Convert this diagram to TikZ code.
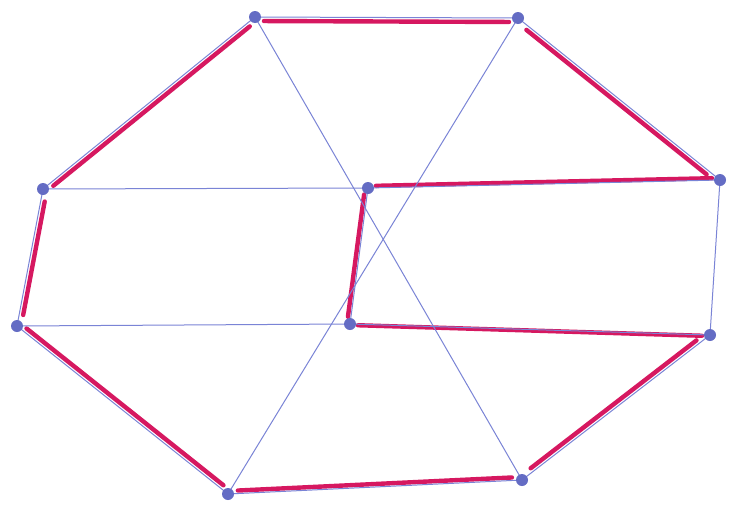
\documentclass[tikz,border=0pt]{standalone}
\usetikzlibrary{calc}
\definecolor{penblue}{RGB}{122,132,214}
\definecolor{dotblue}{RGB}{100,108,196}
\definecolor{penred}{RGB}{214,24,96}
\tikzset{
  blueline/.style={draw=penblue, line width=1pt},
  redline/.style={draw=penred, line width=4.4pt, line cap=round},
  vtx/.style={circle, fill=dotblue, inner sep=0pt, minimum size=12pt}
}
\newcommand{\redge}[4]{%
  \path ($(#1)!#4!90:(#2)$) coordinate (rp) ($(#2)!#4!-90:(#1)$) coordinate (rq);
  \draw[redline] ($(rp)!#3!(rq)$) -- ($(rq)!#3!(rp)$);}
\begin{document}
\begin{tikzpicture}[x=1pt,y=-1pt]
\useasboundingbox[fill=white] (0,0) rectangle (740,509);
\coordinate (v1) at (255,17);
\coordinate (v2) at (518,18);
\coordinate (v3) at (720,180);
\coordinate (v4) at (710,335);
\coordinate (v5) at (522,480);
\coordinate (v6) at (228,494);
\coordinate (v7) at (17,326);
\coordinate (v8) at (43,189);
\coordinate (v9) at (368,188);
\coordinate (v10) at (350,324);
% red highlighted cycle (y axis points down, so outward = -90 offset)
\redge{v1}{v2}{9pt}{-4pt}
\redge{v2}{v3}{14pt}{-4pt}
\redge{v3}{v9}{8pt}{-2pt}
\redge{v9}{v10}{7pt}{-3pt}
\redge{v10}{v4}{8pt}{-1pt}
\redge{v4}{v5}{14pt}{-4pt}
\redge{v5}{v6}{10pt}{-3pt}
\redge{v6}{v7}{9pt}{-4pt}
\redge{v7}{v8}{12pt}{-4pt}
\redge{v8}{v1}{10pt}{-4pt}
% blue edges
\draw[blueline] (v1) -- (v2) -- (v3) -- (v4) -- (v5) -- (v6) -- (v7) -- (v8) -- cycle;
\draw[blueline] (v1) -- (v5);
\draw[blueline] (v2) -- (v6);
\draw[blueline] (v8) -- (v9);
\draw[blueline] (v7) -- (v10);
\draw[blueline] (v9) -- (v3);
\draw[blueline] (v10) -- (v4);
\draw[blueline] (v9) -- (v10);
% vertices
\foreach \v in {v1,v2,v3,v4,v5,v6,v7,v8,v9,v10}
  \node[vtx] (n\v) at (\v) {};
\end{tikzpicture}
\end{document}
